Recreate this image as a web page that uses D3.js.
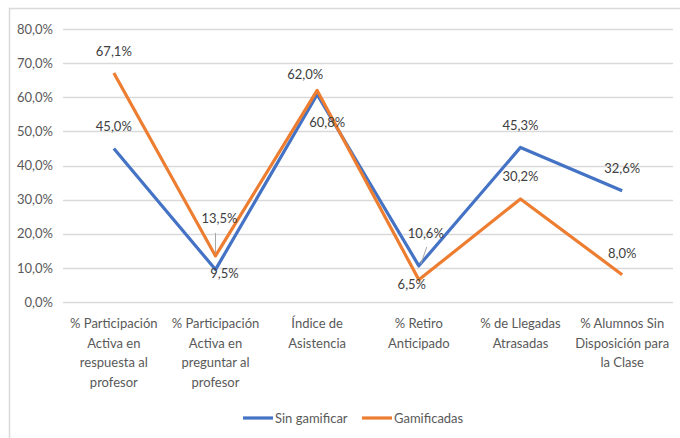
<!DOCTYPE html>
<html>
<head>
<meta charset="utf-8">
<script src="https://cdn.jsdelivr.net/npm/d3@7/dist/d3.min.js"></script>
<style>
  body { margin: 0; background: #fff; }
  svg text { font-family: Lato, "Open Sans", sans-serif; }
</style>
</head>
<body>
<div id="chart"></div>
<script>
const categories = [
    ['% Participación', 'Activa en', 'respuesta al', 'profesor'],
    ['% Participación', 'Activa en', 'preguntar al', 'profesor'],
    ['Índice de', 'Asistencia'],
    ['% Retiro', 'Anticipado'],
    ['% de Llegadas', 'Atrasadas'],
    ['% Alumnos Sin', 'Disposición para', 'la Clase'],
];
const sinGamificar = [45.0, 9.5, 60.8, 10.6, 45.3, 32.6];
const gamificadas = [67.1, 13.5, 62.0, 6.5, 30.2, 8.0];
const yTicks = [0, 10, 20, 30, 40, 50, 60, 70, 80];

const width = 680;
const height = 438;
const margin = { top: 29, right: 7, bottom: 136, left: 63 };
const fontSize = '13px';

const fmt = v => d3.format('.1f')(v).replace('.', ',') + '%';

const series = [
    { name: 'Sin gamificar', values: sinGamificar, color: '#4472C4',
      offsets: [[0, -17], [9, 8], [10, 32], [7, -28], [0, -17], [0, -18]] },
    { name: 'Gamificadas', values: gamificadas, color: '#ED7D31',
      offsets: [[0, -17], [4, -33], [-12, -11], [-7, 9], [0, -18], [0, -17]] },
];

const svg = d3.select('#chart')
    .append('svg')
    .attr('width', width)
    .attr('height', height);

// chart frame
svg.append('path')
    .attr('d', `M9.5,${height} V8.5 H${width}`)
    .attr('fill', 'none')
    .attr('stroke', '#d9d9d9')
    .attr('stroke-width', 1.5);

const x = d3.scaleBand()
    .domain(d3.range(categories.length))
    .range([margin.left, width - margin.right]);
const y = d3.scaleLinear()
    .domain([0, 80])
    .range([height - margin.bottom, margin.top]);

// grid
svg.append('g')
    .selectAll('line')
    .data(yTicks)
    .enter()
    .append('line')
    .attr('x1', margin.left)
    .attr('x2', width - margin.right)
    .attr('y1', d => Math.round(y(d)) + 0.5)
    .attr('y2', d => Math.round(y(d)) + 0.5)
    .attr('stroke', '#d9d9d9')
    .attr('stroke-width', 1.3);

// y axis labels
const yAxis = svg.append('g')
    .attr('transform', `translate(${margin.left - 10},0)`)
    .call(d3.axisLeft(y).tickValues(yTicks).tickSize(0).tickPadding(0)
        .tickFormat(d => fmt(d)));
yAxis.select('.domain').remove();
yAxis.selectAll('text')
    .attr('fill', '#595959')
    .style('font-size', fontSize)
    .style('font-family', 'Lato, "Open Sans", sans-serif');

// x labels
const cx = i => x(i) + x.bandwidth() / 2;
svg.append('g')
    .selectAll('text')
    .data(categories)
    .enter()
    .append('text')
    .attr('x', (d, i) => cx(i))
    .attr('y', 328)
    .attr('text-anchor', 'middle')
    .attr('fill', '#595959')
    .style('font-size', fontSize)
    .each(function (lines) {
        d3.select(this).selectAll('tspan')
            .data(lines)
            .enter()
            .append('tspan')
            .attr('x', function () { return this.parentNode.getAttribute('x'); })
            .attr('dy', (l, j) => (j === 0 ? 0 : 19.7))
            .text(l => l);
    });

// lines
const line = d3.line()
    .x((d, i) => cx(i))
    .y(d => y(d));

series.forEach(s => {
    svg.append('path')
        .datum(s.values)
        .attr('d', line)
        .attr('fill', 'none')
        .attr('stroke', s.color)
        .attr('stroke-width', 3.2)
        .attr('stroke-linejoin', 'round');
});

// leader lines for crowded labels
const leaders = [
    { i: 1, v: gamificadas[1], from: [0, -23], to: [0, -3] },
    { i: 3, v: sinGamificar[3], from: [8, -19], to: [2, -2] },
];
svg.append('g')
    .selectAll('line')
    .data(leaders)
    .enter()
    .append('line')
    .attr('x1', d => cx(d.i) + d.from[0])
    .attr('y1', d => y(d.v) + d.from[1])
    .attr('x2', d => cx(d.i) + d.to[0])
    .attr('y2', d => y(d.v) + d.to[1])
    .attr('stroke', '#a6a6a6')
    .attr('stroke-width', 1);

// data labels
series.forEach(s => {
    svg.append('g')
        .selectAll('text')
        .data(s.values)
        .enter()
        .append('text')
        .attr('x', (d, i) => cx(i) + s.offsets[i][0])
        .attr('y', (d, i) => y(d) + s.offsets[i][1])
        .attr('text-anchor', 'middle')
        .attr('fill', '#404040')
        .style('font-size', fontSize)
        .text(d => fmt(d));
});

// legend
const legend = svg.append('g')
    .selectAll('g')
    .data(series)
    .enter()
    .append('g')
    .attr('transform', (d, i) => `translate(${[243, 362][i]},418)`);
legend.append('line')
    .attr('x1', 0)
    .attr('x2', 30)
    .attr('stroke', d => d.color)
    .attr('stroke-width', 3.2);
legend.append('text')
    .attr('x', 32)
    .attr('y', 4.5)
    .attr('fill', '#595959')
    .style('font-size', fontSize)
    .text(d => d.name);
</script>
</body>
</html>
